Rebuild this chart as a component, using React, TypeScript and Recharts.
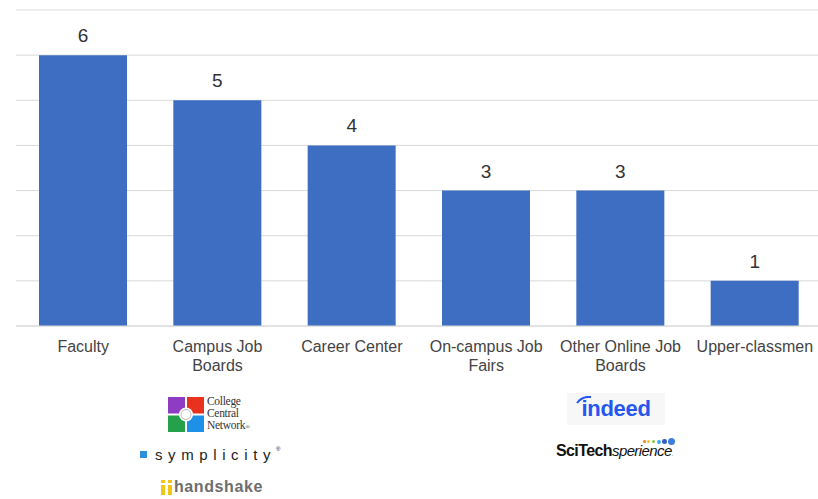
import { BarChart, Bar, XAxis, YAxis, CartesianGrid, LabelList, Text } from 'recharts';

const categories = ['Faculty', 'Campus Job Boards', 'Career Center', 'On-campus Job Fairs', 'Other Online Job Boards', 'Upper-classmen'];
const counts = [6, 5, 4, 3, 3, 1];
const yTicks = [0, 1, 2, 3, 4, 5, 6, 7];

const data = categories.map((name, i) => ({ name, count: counts[i] }));

const BAR_BLUE = '#3d6ec1';
const FONT = '"Liberation Sans", Arial, sans-serif';

function CategoryTick(props: any) {
    const { x, y, payload } = props;
    return (
        <Text
            x={x}
            y={y + 7}
            width={124}
            textAnchor="middle"
            verticalAnchor="start"
            lineHeight={19}
            fontSize={16}
            fontFamily={FONT}
            fill="#444"
        >
            {payload.value}
        </Text>
    );
}

function CollegeCentral() {
    return (
        <div style={{ position: 'absolute', left: 168, top: 395, display: 'flex', alignItems: 'center' }}>
            <svg width={36} height={35} viewBox="0 0 36 35">
                <rect x={0} y={0} width={17} height={16.5} fill="#8e3cc4" />
                <rect x={19} y={0} width={17} height={16.5} fill="#e8321e" />
                <rect x={0} y={18.5} width={17} height={16.5} fill="#24a14a" />
                <rect x={19} y={18.5} width={17} height={16.5} fill="#1e90e8" />
                <circle cx={18} cy={17.5} r={7} fill="#fff" />
                <circle cx={18} cy={17.5} r={5} fill="none" stroke="#bbb" strokeWidth={1} />
            </svg>
            <div style={{ marginLeft: 3, fontFamily: '"Liberation Serif", serif', fontSize: 11.5, lineHeight: '12px', color: '#333', letterSpacing: -0.3 }}>
                College<br />Central<br />Network<span style={{ fontSize: 6 }}>®</span>
            </div>
        </div>
    );
}

function Symplicity() {
    return (
        <div style={{ position: 'absolute', left: 140, top: 446, display: 'flex', alignItems: 'center' }}>
            <div style={{ width: 7, height: 7, background: '#2f8fd8' }} />
            <div style={{ marginLeft: 8, fontFamily: FONT, fontSize: 15, letterSpacing: 5.6, color: '#222' }}>
                symplicity<span style={{ fontSize: 6, verticalAlign: 'top', letterSpacing: 0 }}>®</span>
            </div>
        </div>
    );
}

function Handshake() {
    return (
        <div style={{ position: 'absolute', left: 161, top: 479, display: 'flex', alignItems: 'flex-end' }}>
            <svg width={12} height={15} viewBox="0 0 12 15">
                <rect x={0} y={5} width={4} height={10} fill="#f3c514" />
                <rect x={7} y={5} width={4} height={10} fill="#f3c514" />
                <rect x={0} y={0} width={4} height={3} fill="#f3c514" />
                <rect x={7} y={0} width={4} height={3} fill="#f3c514" />
            </svg>
            <div style={{ marginLeft: 1, fontFamily: FONT, fontWeight: 700, fontSize: 16, lineHeight: '16px', letterSpacing: 0.6, color: '#6d6d6d' }}>
                handshake
            </div>
        </div>
    );
}

function Indeed() {
    return (
        <div style={{ position: 'absolute', left: 567, top: 393, width: 98, height: 32, background: '#f7f7f7', display: 'flex', alignItems: 'center', justifyContent: 'center' }}>
            <div style={{ position: 'relative', fontFamily: FONT, fontWeight: 700, fontSize: 22, color: '#2557f0', letterSpacing: -0.3 }}>
                indeed
                <svg width={16} height={8} style={{ position: 'absolute', left: -5, top: 0 }} viewBox="0 0 16 8">
                    <path d="M1 7 Q6 0 15 1" fill="none" stroke="#2557f0" strokeWidth={2} />
                </svg>
            </div>
        </div>
    );
}

function SciTech() {
    const dots = ['#f28c28', '#f5c518', '#8cc63f', '#3fa9f5', '#3b5fc0'];
    return (
        <div style={{ position: 'absolute', left: 556, top: 436 }}>
            <div style={{ position: 'absolute', left: 87, top: 2, display: 'flex', alignItems: 'center', gap: 1.5 }}>
                {dots.map((c, i) => (
                    <div key={i} style={{ width: 2.5 + i * 0.5, height: 2.5 + i * 0.5, borderRadius: '50%', background: c }} />
                ))}
                <div style={{ width: 7, height: 7, borderRadius: '50%', background: '#3b7fd8' }} />
            </div>
            <div style={{ marginTop: 6, whiteSpace: 'nowrap', color: '#111', fontFamily: FONT, letterSpacing: -0.6 }}>
                <span style={{ fontWeight: 700, fontSize: 16 }}>SciTech</span>
                <span style={{ fontStyle: 'italic', fontSize: 15 }}>sperience</span>
                <span style={{ fontSize: 5 }}>.</span>
            </div>
        </div>
    );
}

export default function App() {
    return (
        <div style={{ position: 'absolute', left: 0, top: 0, width: 818, height: 499, background: '#fff', overflow: 'hidden' }}>
            <BarChart width={818} height={499} data={data} margin={{ top: 10, right: -4, bottom: 143, left: 16 }}>
                <CartesianGrid vertical={false} stroke="#d9d9d9" />
                <XAxis
                    dataKey="name"
                    height={30}
                    interval={0}
                    axisLine={{ stroke: '#d9d9d9' }}
                    tickLine={false}
                    tick={<CategoryTick />}
                />
                <YAxis hide domain={[0, 7]} ticks={yTicks} />
                <Bar dataKey="count" fill={BAR_BLUE} barSize={88} isAnimationActive={false}>
                    <LabelList dataKey="count" position="top" offset={13} fontSize={19} fontFamily={FONT} fill="#333" />
                </Bar>
            </BarChart>
            <CollegeCentral />
            <Symplicity />
            <Handshake />
            <Indeed />
            <SciTech />
        </div>
    );
}
